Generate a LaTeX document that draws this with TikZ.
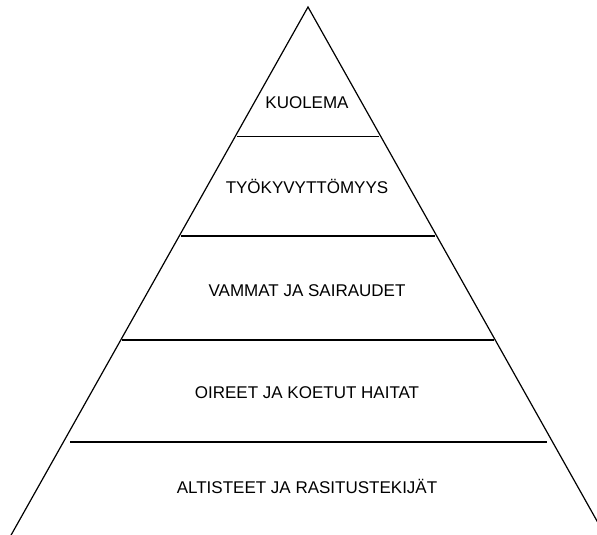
\documentclass[tikz,border=0pt]{standalone}
\usepackage{fontspec}
\setmainfont{Liberation Sans}

\begin{document}
\begin{tikzpicture}[x=1pt,y=-1pt,
    level/.style={font=\fontsize{17}{20}\selectfont, text height=12.2pt, text depth=0pt, inner sep=0pt},
    side/.style={black, line width=1.2pt},
    divider/.style={black, line width=1.8pt}]

    \useasboundingbox (0,0) rectangle (597,535);
    \clip (0,0) rectangle (597,535);

    % Pyramid corners (the base lies below the page edge)
    \coordinate (top) at (308,7);
    \coordinate (baseL) at (1,553);
    \coordinate (baseR) at (615,553);

    % Level dividers
    \coordinate (d1L) at (237,136.5);
    \coordinate (d1R) at (379,136.5);
    \coordinate (d2L) at (181,235.7);
    \coordinate (d2R) at (435,235.7);
    \coordinate (d3L) at (122,340);
    \coordinate (d3R) at (494,340);
    \coordinate (d4L) at (70,442);
    \coordinate (d4R) at (547,442);

    % Pyramid outline
    \draw[side] (baseL) -- (top) -- (baseR);

    % Horizontal dividers
    \draw[divider] (d1L) -- (d1R);
    \draw[divider] (d2L) -- (d2R);
    \draw[divider] (d3L) -- (d3R);
    \draw[divider] (d4L) -- (d4R);

    % Level labels
    \node[level] (kuolema) at (307,102.5) {KUOLEMA};
    \node[level] (tyokyvyttomyys) at (307,187) {TYÖKYVYTTÖMYYS};
    \node[level] (vammat) at (307,290) {VAMMAT JA SAIRAUDET};
    \node[level] (oireet) at (307,392.5) {OIREET JA KOETUT HAITAT};
    \node[level] (altisteet) at (307,487) {ALTISTEET JA RASITUSTEKIJÄT};

\end{tikzpicture}
\end{document}
